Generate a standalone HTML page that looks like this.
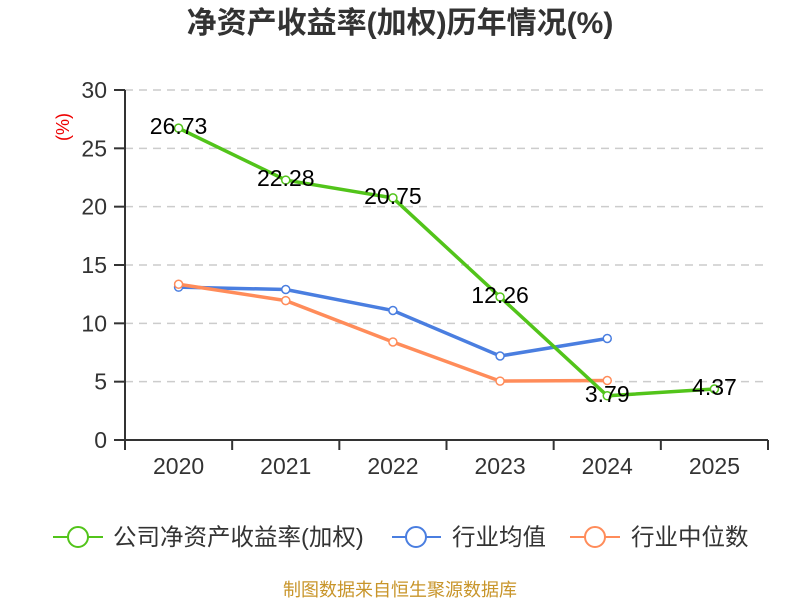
<!DOCTYPE html>
<html><head><meta charset="utf-8"><style>
body{margin:0;background:#fff;width:800px;height:600px;overflow:hidden}
svg{font-family:"Liberation Sans","Noto Sans CJK SC",sans-serif}
</style></head><body>
<svg id="chart" width="800" height="600">
<text x="400" y="33" text-anchor="middle" font-size="30" font-weight="bold" fill="#333">净资产收益率(加权)历年情况(%)</text>
<text transform="translate(69,127) rotate(-90)" text-anchor="middle" font-size="18" fill="#e00">(%)</text>
<g id="grid"></g><g id="axes"></g><g id="series"></g>
<g font-size="23.5" fill="#333">
 <g><line x1="53" y1="537" x2="103" y2="537" stroke="#52c41a" stroke-width="2"/><circle cx="78" cy="537" r="10" fill="#fff" stroke="#52c41a" stroke-width="2"/><text x="113" y="545">公司净资产收益率(加权)</text></g>
 <g><line x1="392" y1="537" x2="441" y2="537" stroke="#4a7ee0" stroke-width="2"/><circle cx="416" cy="537" r="10" fill="#fff" stroke="#4a7ee0" stroke-width="2"/><text x="452" y="545">行业均值</text></g>
 <g><line x1="570" y1="537" x2="620" y2="537" stroke="#ff8c5a" stroke-width="2"/><circle cx="595" cy="537" r="10" fill="#fff" stroke="#ff8c5a" stroke-width="2"/><text x="631" y="545">行业中位数</text></g>
</g>
<text x="400" y="596" text-anchor="middle" font-size="18" fill="#c8952a">制图数据来自恒生聚源数据库</text>
</svg>
<script>
const categories=["2020","2021","2022","2023","2024","2025"];
const companyValues=[26.73,22.28,20.75,12.26,3.79,4.37];
const avgValues=[13.1,12.9,11.1,7.2,8.7,null];
const medianValues=[13.35,11.95,8.4,5.05,5.1,null];
const yTicks=[0,5,10,15,20,25,30];
const NS="http://www.w3.org/2000/svg";
const L=125,R=768,T=90,B=440,yMax=30;
const bw=(R-L)/categories.length;
const xS=i=>L+bw*(i+0.5);
const yS=v=>B-(v/yMax)*(B-T);
function mk(p,tag,attrs,txt){const e=document.createElementNS(NS,tag);for(const k in attrs)e.setAttribute(k,attrs[k]);if(txt!=null)e.textContent=txt;p.appendChild(e);return e;}
const grid=document.getElementById('grid'),axes=document.getElementById('axes'),ser=document.getElementById('series');
yTicks.forEach(t=>{
 const y=yS(t);
 if(t>0){const g=mk(grid,'line',{x1:L,x2:R,y1:y,y2:y,stroke:'#ccc','stroke-dasharray':'8,6','stroke-width':1.5});
 
 }
 const tk=mk(axes,'line',{x1:114,x2:L,y1:y,y2:y,stroke:'#333','stroke-width':2});
 
 
 const lb=mk(axes,'text',{x:107,y:y+8,'text-anchor':'end','font-size':23,fill:'#333'},t);
 
 
});
mk(axes,'line',{x1:L,x2:L,y1:T,y2:B,stroke:'#333','stroke-width':2});
mk(axes,'line',{x1:L,x2:R,y1:B,y2:B,stroke:'#333','stroke-width':2});
for(let i=0;i<=categories.length;i++){const x=L+bw*i;mk(axes,'line',{x1:x,x2:x,y1:B,y2:B+10,stroke:'#333','stroke-width':2});}
categories.forEach((c,i)=>{const t=mk(axes,'text',{x:xS(i),y:474,'text-anchor':'middle','font-size':23,fill:'#333'},c);
 
 });
function line(vals,color,name,labels){
 const pts=[];vals.forEach((v,i)=>{if(v!=null)pts.push([xS(i),yS(v),v]);});
 const pl=mk(ser,'polyline',{points:pts.map(p=>p[0]+','+p[1]).join(' '),fill:'none',stroke:color,'stroke-width':3.5});
 
 
 pts.forEach(p=>{const c=mk(ser,'circle',{cx:p[0],cy:p[1],r:4,fill:'#fff',stroke:color,'stroke-width':1.5});
  
  
  if(labels){const t=mk(ser,'text',{x:p[0],y:p[1]+6,'text-anchor':'middle','font-size':23,fill:'#000'},p[2].toFixed(2));
  
  }});
}
line(avgValues,'#4a7ee0','industry-avg',false);
line(medianValues,'#ff8c5a','industry-median',false);
line(companyValues,'#52c41a','company-roe',true);
</script>
</body></html>
